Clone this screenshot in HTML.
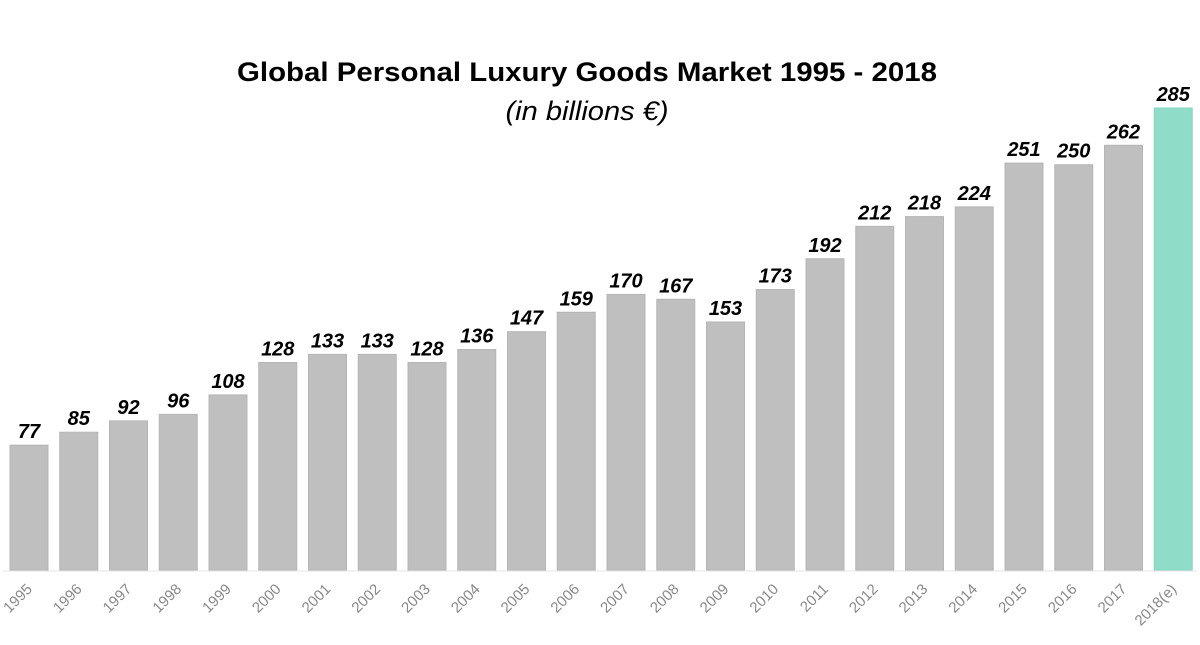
<!DOCTYPE html>
<html><head><meta charset="utf-8"><style>
body{margin:0;background:#fff;width:1200px;height:640px;overflow:hidden}
svg{font-family:"Liberation Sans",sans-serif}
</style></head><body>
<svg id="chart" width="1200" height="640" viewBox="0 0 1200 640">
<text x="587" y="81" text-anchor="middle" font-size="27" font-weight="bold" fill="#000" textLength="700" lengthAdjust="spacingAndGlyphs">Global Personal Luxury Goods Market 1995 - 2018</text>
<text x="587" y="120" text-anchor="middle" font-size="27" font-style="italic" fill="#000" textLength="163" lengthAdjust="spacingAndGlyphs">(in billions €)</text>
<line x1="3" x2="1197" y1="571" y2="571" stroke="#e6e6e6" stroke-width="1"/>
<g id="bars"></g>
</svg>
<script>
const categories=["1995","1996","1997","1998","1999","2000","2001","2002","2003","2004","2005","2006","2007","2008","2009","2010","2011","2012","2013","2014","2015","2016","2017","2018(e)"];
const values=[77,85,92,96,108,128,133,133,128,136,147,159,170,167,153,173,192,212,218,224,251,250,262,285];
const highlight=[false,false,false,false,false,false,false,false,false,false,false,false,false,false,false,false,false,false,false,false,false,false,false,true];
const NS="http://www.w3.org/2000/svg";
const g=document.getElementById('bars');
const baseY=570, k=(570-108)/285;
const xCenter=i=>29+i*49.75;
const yPos=v=>baseY-v*k;
categories.forEach((c,i)=>{
  const v=values[i];
  const r=document.createElementNS(NS,'rect');
  
  
  r.setAttribute('x',xCenter(i)-19);r.setAttribute('width',38);
  r.setAttribute('y',yPos(v));r.setAttribute('height',baseY-yPos(v));
  r.setAttribute('fill',highlight[i]?'#8fdcc8':'#bfbfbf');
  r.setAttribute('stroke',highlight[i]?'#84d6c1':'#b5b5b5');r.setAttribute('stroke-width','1');
  g.appendChild(r);
  const t=document.createElementNS(NS,'text');
  
  
  t.setAttribute('x',xCenter(i));t.setAttribute('y',yPos(v)-7);
  t.setAttribute('text-anchor','middle');t.setAttribute('font-size','20');
  t.setAttribute('font-weight','bold');t.setAttribute('font-style','italic');
  t.textContent=v;g.appendChild(t);
  const l=document.createElementNS(NS,'text');
  
  
  const lx=xCenter(i)+4, ly=590;
  l.setAttribute('x',lx);l.setAttribute('y',ly);
  l.setAttribute('text-anchor','end');l.setAttribute('font-size','15');
  l.setAttribute('fill','#888');
  l.setAttribute('transform','rotate(-45 '+lx+' '+ly+')');
  l.textContent=c;g.appendChild(l);
});
</script>
</body></html>
